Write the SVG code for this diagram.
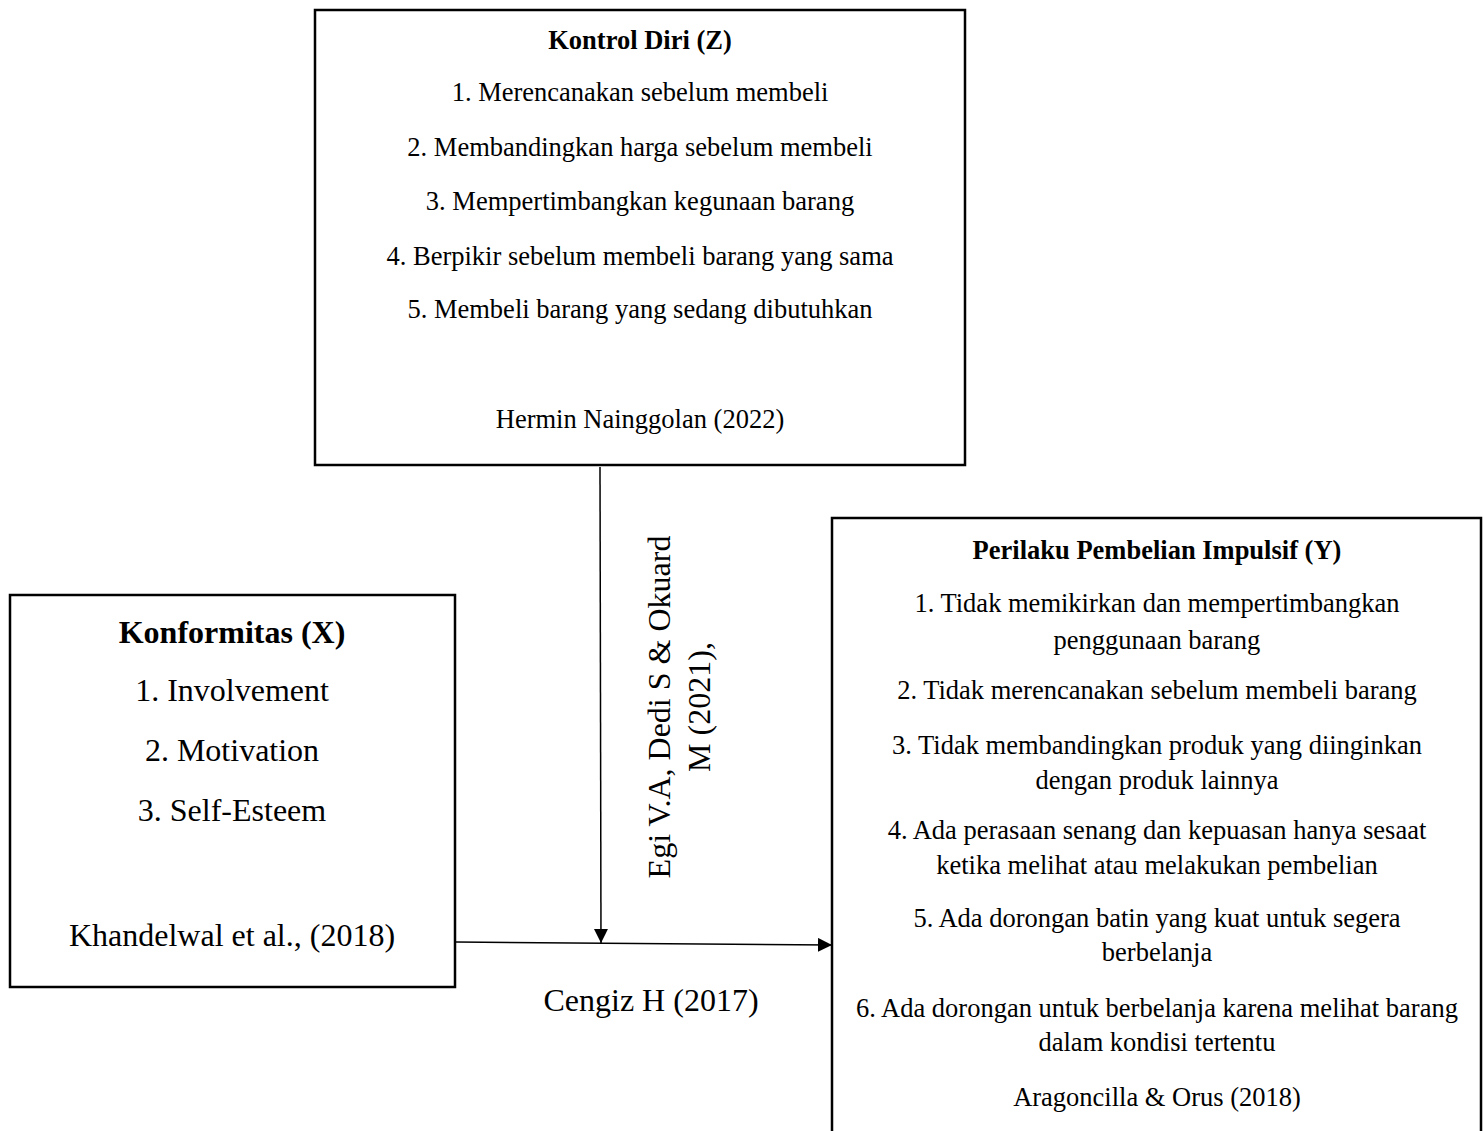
<svg xmlns="http://www.w3.org/2000/svg" width="1484" height="1131" viewBox="0 0 1484 1131">
<style>
.box{fill:#fff;stroke:#000;stroke-width:2.5}
.t{font-family:"Liberation Serif","Times New Roman",serif;fill:#000;text-anchor:middle}
.s{font-size:26.5px}
.l{font-size:32px}
.b{font-weight:bold}
.c{stroke:#000;stroke-width:1.5;fill:none}
</style>
<defs>
<marker id="ah" viewBox="0 0 10 10" refX="10" refY="5" markerWidth="14" markerHeight="14" markerUnits="userSpaceOnUse" orient="auto">
<path d="M0,0 L10,5 L0,10 z" fill="#000"/>
</marker>
</defs>
<rect width="1484" height="1131" fill="#fff"/>
<g id="node-z">
<rect class="box" x="315" y="10" width="650" height="455"/>
<text class="t s b" x="640" y="49">Kontrol Diri (Z)</text>
<text class="t s" x="640" y="101">1. Merencanakan sebelum membeli</text>
<text class="t s" x="640" y="156">2. Membandingkan harga sebelum membeli</text>
<text class="t s" x="640" y="210">3. Mempertimbangkan kegunaan barang</text>
<text class="t s" x="640" y="265">4. Berpikir sebelum membeli barang yang sama</text>
<text class="t s" x="640" y="318">5. Membeli barang yang sedang dibutuhkan</text>
<text class="t s" x="640" y="428">Hermin Nainggolan (2022)</text>
</g>
<g id="node-x">
<rect class="box" x="10" y="595" width="445" height="392"/>
<text class="t l b" x="232" y="643">Konformitas (X)</text>
<text class="t l" x="232" y="701">1. Involvement</text>
<text class="t l" x="232" y="761">2. Motivation</text>
<text class="t l" x="232" y="821">3. Self-Esteem</text>
<text class="t l" x="232" y="946">Khandelwal et al., (2018)</text>
</g>
<g id="node-y">
<rect class="box" x="832" y="518" width="649" height="640"/>
<text class="t s b" x="1157" y="559">Perilaku Pembelian Impulsif (Y)</text>
<text class="t s" x="1157" y="612">1. Tidak memikirkan dan mempertimbangkan</text>
<text class="t s" x="1157" y="649">penggunaan barang</text>
<text class="t s" x="1157" y="699">2. Tidak merencanakan sebelum membeli barang</text>
<text class="t s" x="1157" y="754">3. Tidak membandingkan produk yang diinginkan</text>
<text class="t s" x="1157" y="789">dengan produk lainnya</text>
<text class="t s" x="1157" y="839">4. Ada perasaan senang dan kepuasan hanya sesaat</text>
<text class="t s" x="1157" y="874">ketika melihat atau melakukan pembelian</text>
<text class="t s" x="1157" y="927">5. Ada dorongan batin yang kuat untuk segera</text>
<text class="t s" x="1157" y="961">berbelanja</text>
<text class="t s" x="1157" y="1017">6. Ada dorongan untuk berbelanja karena melihat barang</text>
<text class="t s" x="1157" y="1051">dalam kondisi tertentu</text>
<text class="t s" x="1157" y="1106">Aragoncilla &amp; Orus (2018)</text>
</g>
<g id="connectors">
<line class="c" x1="600" y1="467" x2="601" y2="943" marker-end="url(#ah)"/>
<line class="c" x1="456" y1="942" x2="832" y2="945" marker-end="url(#ah)"/>
</g>
<g id="labels">
<text class="t l" transform="translate(670,707) rotate(-90)">Egi V.A, Dedi S &amp; Okuard</text>
<text class="t l" transform="translate(710,707) rotate(-90)">M (2021),</text>
<text class="t l" x="651" y="1011">Cengiz H (2017)</text>
</g>
</svg>
